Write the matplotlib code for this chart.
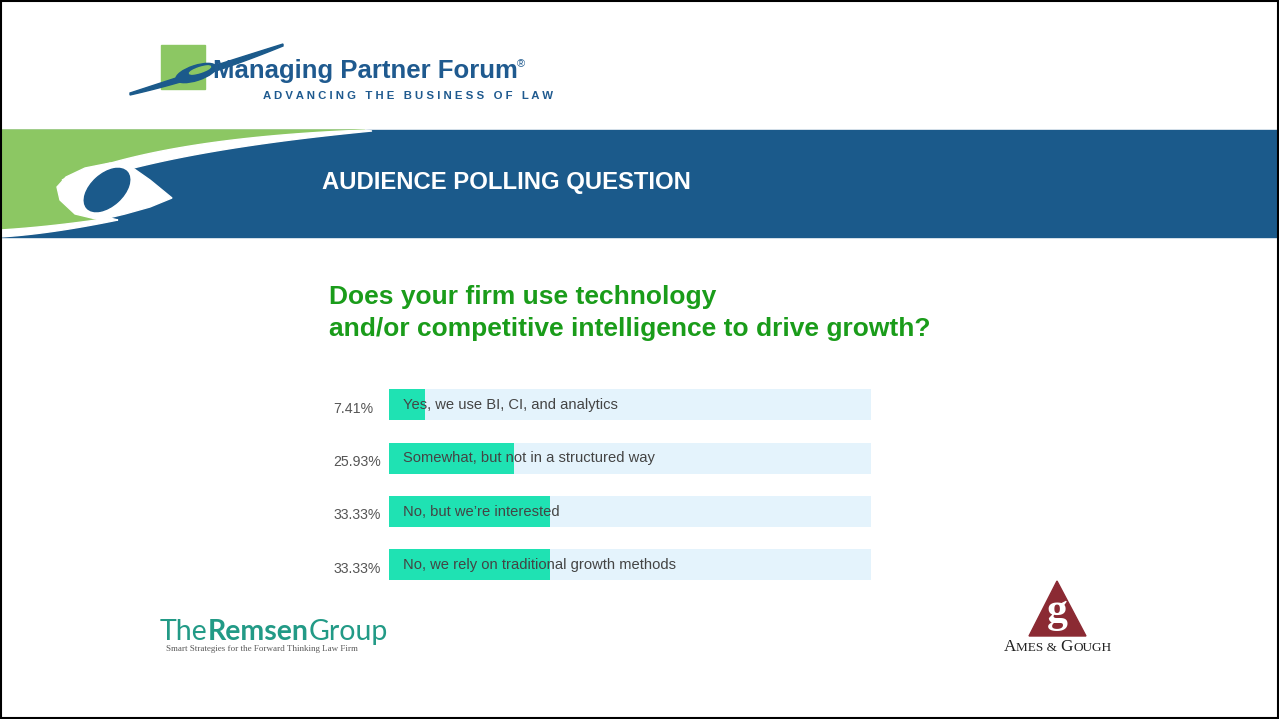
import numpy as np
import matplotlib
matplotlib.use("Agg")
import matplotlib.pyplot as plt
from matplotlib.patches import Rectangle, Polygon, Ellipse

# ---- data ----
categories = ["Yes, we use BI, CI, and analytics",
              "Somewhat, but not in a structured way",
              "No, but we\u2019re interested",
              "No, we rely on traditional growth methods"]
percents = [7.41, 25.93, 33.33, 33.33]
pct_labels = ["7.41%", "25.93%", "33.33%", "33.33%"]
title_lines = ["Does your firm use technology",
               "and/or competitive intelligence to drive growth?"]
banner_text = "AUDIENCE POLLING QUESTION"

W, H = 1279, 719
plt.rcParams['font.family'] = ['Liberation Sans', 'DejaVu Sans']
fig = plt.figure(figsize=(W / 100, H / 100), dpi=100)
fig.patch.set_facecolor("white")
renderer = fig.canvas.get_renderer()

bg = fig.add_axes([0, 0, 1, 1])
bg.set_xlim(0, W)
bg.set_ylim(H, 0)
bg.axis("off")

BLUE = "#1b5a8b"
GREEN = "#8cc763"


def bez(p0, p1, p2, n=60):
    t = np.linspace(0, 1, n)[:, None]
    return (1 - t) ** 2 * np.array(p0) + 2 * (1 - t) * t * np.array(p1) + t ** 2 * np.array(p2)


def seq_text(x, y, parts, **common):
    """Place text parts one after another, starting at pixel x."""
    for s, kw in parts:
        opts = dict(common)
        opts.update(kw)
        t = bg.text(x, y, s, ha="left", **opts)
        bb = t.get_window_extent(renderer=renderer)
        x += bb.width
    return x


# banner
bg.add_patch(Rectangle((0, 130), W, 107, color=BLUE, zorder=1))
up_top = bez((365, 130), (160, 138), (62, 180))
up_bot = bez((372, 131), (175, 150), (80, 184))
green = np.vstack([[(0, 130)], up_top, [(90, 200), (110, 219)],
                   bez((110, 219), (40, 228), (0, 230))])
bg.add_patch(Polygon(green, closed=True, color=GREEN, zorder=2))
bg.add_patch(Polygon(np.vstack([up_top, up_bot[::-1]]), closed=True, color="white", zorder=3))
blob = [(57, 187), (66, 177), (85, 168), (110, 163), (130, 166), (150, 180), (172, 198),
        (150, 207), (125, 214), (100, 220), (75, 214), (60, 200)]
bg.add_patch(Polygon(blob, closed=True, color="white", zorder=4))
bg.add_patch(Ellipse((107, 190), 54, 32, angle=-42, color=BLUE, zorder=5))
low_top = bez((0, 230), (50, 227), (110, 218))
low_bot = bez((118, 220), (50, 234), (0, 237))
bg.add_patch(Polygon(np.vstack([low_top, low_bot, [(0, 237)]]), closed=True,
                     color="white", zorder=4))

bg.text(322, 183, banner_text, color="white", fontsize=17.2, fontweight="bold",
        va="center", ha="left", zorder=6)

# Managing Partner Forum logo
bg.add_patch(Rectangle((161, 45), 44, 44, color=GREEN, zorder=2))
sw1 = bez((130, 93), (200, 70), (283, 44))
sw2 = bez((283, 44), (205, 76), (130, 93))
bg.add_patch(Polygon(np.vstack([sw1, sw2 + np.array([0, 2])]), closed=True,
                     color=BLUE, zorder=3))
bg.add_patch(Ellipse((196, 73), 42, 15, angle=-18, color=BLUE, zorder=3))
bg.add_patch(Ellipse((200, 70), 22, 5, angle=-18, color=GREEN, zorder=3.5))
bg.text(213, 71, "Managing Partner Forum", color="#1f5a8f", fontsize=18.5,
        fontweight="bold", va="center", ha="left", zorder=4)
bg.text(517, 64, "\u00ae", color="#1f5a8f", fontsize=8, va="center", ha="left")
bg.text(263, 96, "A D V A N C I N G   T H E   B U S I N E S S   O F   L A W",
        color="#1f5a8f", fontsize=8.2, fontweight="bold", va="center", ha="left")

# question title
bg.text(329, 297, title_lines[0], color="#1a9c1a", fontsize=19, fontweight="bold",
        va="center", ha="left")
bg.text(329, 329, title_lines[1], color="#1a9c1a", fontsize=19, fontweight="bold",
        va="center", ha="left")

# Remsen logo
TEAL = "#229a86"
rfam = ["Lato", "DejaVu Sans"]
seq_text(160, 640, [("The", dict(fontweight="normal")),
                    ("Remsen", dict(fontweight="bold")),
                    ("Group", dict(fontweight="normal"))],
         color=TEAL, fontsize=20.5, va="baseline", family=rfam)
bg.text(166, 649, "Smart Strategies for the Forward Thinking Law Firm", color="#5a5a5a",
        fontsize=6.5, va="center", ha="left", family=["Liberation Serif", "DejaVu Serif"])

# Ames & Gough logo
MAROON = "#8b2a33"
bg.add_patch(Polygon([(1057, 581), (1029, 636), (1086, 636)], closed=True,
                     color=MAROON, zorder=2))
bg.text(1057, 622, "g", color="white", fontsize=30, fontweight="bold", ha="center",
        va="baseline", family=["Liberation Serif", "DejaVu Serif"], zorder=3)
serif = ["Liberation Serif", "DejaVu Serif"]
seq_text(1004, 651, [("A", dict(fontsize=12.3)), ("MES & ", dict(fontsize=9.5)),
                     ("G", dict(fontsize=12.3)), ("OUGH", dict(fontsize=9.5))],
         color="#222222", va="baseline", family=serif)

# border
bg.add_patch(Rectangle((1, 1), W - 2, H - 2, fill=False, edgecolor="black",
                       linewidth=1.5, zorder=10))

# ---- chart ----
spacing = 53.33
top = 405 - spacing / 2
axh = spacing * 4
ax = fig.add_axes([389 / W, 1 - (top + axh) / H, 482 / W, axh / H])
ax.set_xlim(0, 100)
ax.set_ylim(3.5, -0.5)
ax.axis("off")
ax.patch.set_alpha(0)
ypos = np.arange(len(categories))
bar_h = 31 / spacing
ax.barh(ypos, [100] * len(categories), height=bar_h, color="#e4f3fc", zorder=1)
ax.barh(ypos, percents, height=bar_h, color="#1fe2b3", zorder=2)
for y, cat, pl in zip(ypos, categories, pct_labels):
    ax.text(2.9, y, cat, color="#444444", fontsize=10.6, va="center", ha="left", zorder=3)
    ax.text(-11.6, y + 0.07, pl, color="#555555", fontsize=10.2, va="center", ha="left",
            clip_on=False)

fig.savefig("out.png", dpi=100, facecolor="white")
